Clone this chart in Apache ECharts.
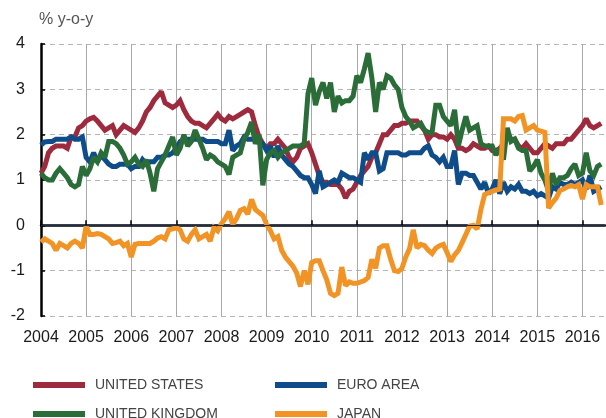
<!DOCTYPE html>
<html>
<head>
<meta charset="utf-8">
<script src="https://cdn.jsdelivr.net/npm/echarts@6/dist/echarts.min.js"></script>
<style>
  html, body { margin: 0; padding: 0; background: #fff; }
  #chart { width: 606px; height: 418px; }
</style>
</head>
<body>
<div id="chart"></div>
<script>
// tick labels: one per year, data is monthly from Jan 2004
var years = ['2004', '2005', '2006', '2007', '2008', '2009', '2010', '2011', '2012', '2013', '2014', '2015', '2016'];
var yTicks = [-2, -1, 0, 1, 2, 3, 4];

// % y-o-y, monthly Jan 2004 .. Jun 2016
var unitedStates = [
  1.15, 1.3, 1.6, 1.7, 1.75, 1.75, 1.75, 1.7, 1.95, 1.95, 2.15, 2.2,
  2.3, 2.35, 2.38, 2.3, 2.2, 2.1, 2.15, 2.2, 2.0, 2.1, 2.2, 2.15,
  2.1, 2.05, 2.15, 2.3, 2.5, 2.6, 2.75, 2.85, 2.95, 2.7, 2.65, 2.6,
  2.65, 2.75, 2.55, 2.4, 2.3, 2.25, 2.25, 2.2, 2.15, 2.25, 2.35, 2.45,
  2.35, 2.3, 2.4, 2.35, 2.4, 2.45, 2.5, 2.55, 2.5, 2.2, 1.95, 1.8,
  1.7, 1.8, 1.8, 1.9, 1.8, 1.7, 1.5, 1.4, 1.5, 1.7, 1.75, 1.8,
  1.6, 1.35, 1.1, 0.95, 0.95, 0.9, 0.9, 0.9, 0.8, 0.6, 0.75, 0.8,
  0.95, 1.1, 1.2, 1.3, 1.5, 1.6, 1.8, 2.0, 2.0, 2.1, 2.2, 2.2,
  2.25, 2.25, 2.3, 2.3, 2.3, 2.2, 2.1, 1.9, 2.0, 2.0, 1.95, 1.95,
  1.9, 2.0, 1.9, 1.7, 1.7, 1.65, 1.7, 1.8, 1.75, 1.7, 1.7, 1.75,
  1.65, 1.65, 1.7, 1.8, 2.0, 1.9, 1.9, 1.75, 1.7, 1.8, 1.7, 1.6,
  1.6, 1.7, 1.8, 1.75, 1.7, 1.8, 1.8, 1.8, 1.9, 1.9, 2.0, 2.1,
  2.2, 2.35, 2.2, 2.15, 2.2, 2.25
];
var euroArea = [
  1.77, 1.84, 1.85, 1.85, 1.9, 1.9, 1.9, 1.9, 1.95, 1.9, 1.9, 1.95,
  1.5, 1.4, 1.6, 1.4, 1.55, 1.45, 1.35, 1.3, 1.3, 1.35, 1.35, 1.35,
  1.25, 1.3, 1.3, 1.45, 1.35, 1.4, 1.4, 1.5, 1.5, 1.55, 1.55, 1.6,
  1.7, 1.85, 1.9, 1.9, 1.9, 1.9, 1.9, 1.9, 1.85, 1.85, 1.85, 1.85,
  1.8, 1.8, 2.1, 1.65, 1.75, 1.8, 1.95, 1.9, 1.9, 1.9, 1.85, 1.8,
  1.65, 1.75, 1.5, 1.75, 1.55, 1.45, 1.35, 1.3, 1.2, 1.1, 1.05, 1.05,
  0.9, 0.7, 1.2, 0.85, 0.9, 0.95, 1.0, 0.95, 1.15, 1.1, 1.05, 1.05,
  1.0, 0.95, 1.6, 1.45, 1.6, 1.6, 1.2, 1.25, 1.6, 1.6, 1.6, 1.6,
  1.55, 1.55, 1.6, 1.6, 1.6, 1.6, 1.7, 1.75, 1.55, 1.5, 1.4, 1.5,
  1.3, 1.3, 1.65, 0.9, 1.15, 1.15, 1.1, 1.1, 0.95, 0.8, 0.95, 0.7,
  0.8, 1.0, 0.7, 0.95, 0.75, 0.85, 0.8, 0.9, 0.75, 0.75, 0.7, 0.75,
  0.65, 0.7, 0.65, 0.6, 0.85, 0.8, 0.95, 0.9, 0.9, 0.95, 0.9, 0.95,
  1.0, 0.8, 1.1, 0.75, 0.8, 0.85
];
var unitedKingdom = [
  1.15, 1.05, 1.0, 1.0, 1.15, 1.25, 1.15, 1.05, 0.9, 0.85, 0.9, 1.3,
  1.1, 1.25, 1.5, 1.4, 1.6, 1.5, 1.85, 1.85, 1.8, 1.7, 1.55, 1.35,
  1.4, 1.5, 1.35, 1.3, 1.45, 1.15, 0.75, 1.25, 1.4, 1.55, 1.75, 1.95,
  1.55, 1.7, 2.0, 1.75, 1.85, 2.1, 1.9, 1.7, 1.45, 1.55, 1.5, 1.4,
  1.35, 1.3, 1.12, 1.5, 1.55, 1.6, 1.9, 2.05, 2.28, 1.8, 2.0, 0.88,
  1.45, 1.6, 1.65, 1.5, 1.6, 1.65, 1.7, 1.75, 1.75, 1.75, 1.8, 2.9,
  3.25, 2.65, 2.95, 3.15, 2.8, 3.15, 2.5, 2.85, 2.7, 2.75, 2.75, 2.85,
  3.3, 3.15, 3.45, 3.8, 3.25, 2.5, 3.15, 3.0, 3.3, 3.25, 3.1, 3.0,
  2.6, 2.4, 2.3, 2.15, 2.2, 2.25, 2.1, 2.05, 2.05, 2.65, 2.65, 2.4,
  2.3, 2.2, 2.55, 1.75, 2.1, 2.4, 2.1, 2.15, 2.2, 1.8, 1.75, 1.75,
  1.75, 1.55, 1.7, 1.45, 2.15, 1.85, 1.9, 1.7, 1.65, 1.65, 1.2, 1.3,
  1.45, 1.15, 1.0, 0.75, 1.15, 0.9, 1.05, 1.05, 1.1, 1.25, 1.35, 1.1,
  1.15, 1.6, 1.2, 1.1, 1.3, 1.35
];
var japan = [
  -0.37, -0.3, -0.35, -0.4, -0.55, -0.4, -0.45, -0.5, -0.4, -0.35, -0.4, -0.5,
  -0.02, -0.2, -0.2, -0.18, -0.2, -0.25, -0.3, -0.4, -0.38, -0.35, -0.45, -0.4,
  -0.7, -0.42, -0.4, -0.4, -0.4, -0.4, -0.35, -0.28, -0.25, -0.3, -0.1, -0.08,
  -0.05, -0.1, -0.3, -0.35, -0.2, -0.1, -0.3, -0.25, -0.2, -0.35, -0.05, -0.12,
  0.04, 0.15, 0.3, 0.02, 0.15, 0.33, 0.37, 0.25, 0.57, 0.35, 0.28, 0.22,
  0.02, -0.12, -0.3, -0.25, -0.55, -0.7, -0.8, -0.9, -1.05, -1.35, -1.0, -1.3,
  -0.82, -0.78, -0.78, -1.0, -1.2, -1.5, -1.55, -1.5, -0.92, -1.33, -1.25, -1.28,
  -1.28, -1.25, -1.22, -1.15, -0.75, -0.95, -0.5, -0.45, -0.45, -0.75, -1.0, -1.02,
  -0.95, -0.7, -0.52, -0.1, -0.5, -0.42, -0.45, -0.55, -0.62, -0.5, -0.45, -0.42,
  -0.6, -0.8, -0.65, -0.55, -0.38, -0.2, -0.02, 0.0, -0.08, 0.35, 0.68, 0.72,
  0.75, 0.78, 0.8, 2.35, 2.35, 2.35, 2.3, 2.4, 2.42, 2.1, 2.15, 2.2,
  2.1, 2.08, 2.05, 0.38, 0.5, 0.6, 0.77, 0.8, 0.85, 0.88, 0.85, 0.9,
  0.58, 0.9, 0.85, 0.85, 0.85, 0.45
];

var names = ['UNITED STATES', 'EURO AREA', 'UNITED KINGDOM', 'JAPAN'];
var colors = ['#9e2b3d', '#0f4c8a', '#2a6d38', '#f29425'];

var months = [];
years.forEach(function (y) {
  for (var m = 1; m <= 12; m++) months.push(y + '-' + (m < 10 ? '0' : '') + m);
});
months = months.slice(0, 151); // through Jul 2016

function isYearStart(i) { return i % 12 === 0; }

var chart = echarts.init(document.getElementById('chart'), null, { renderer: 'canvas' });

function line(name, data, color, extra) {
  var s = {
    name: name,
    type: 'line',
    data: data,
    showSymbol: false,
    symbol: 'none',
    lineStyle: { color: color, width: 5, join: 'miter', miterLimit: 2 },
    itemStyle: { color: color }
  };
  for (var k in extra) s[k] = extra[k];
  return s;
}

var legendText = {
  fontFamily: '"Liberation Sans Narrow", "Liberation Sans", sans-serif',
  fontSize: 14,
  color: '#444',
  lineHeight: 16,
  padding: [0, 0, 0, 5]
};

chart.setOption({
  animation: false,
  title: {
    text: '% y-o-y',
    left: 39,
    top: 12,
    padding: 0,
    textStyle: { fontFamily: 'Liberation Sans', fontSize: 16, fontWeight: 'normal', color: '#555' }
  },
  legend: [{
    data: [names[0], names[2]],
    orient: 'vertical',
    left: 33,
    top: 377,
    height: 80,
    padding: 0,
    icon: 'rect',
    itemWidth: 52,
    itemHeight: 6,
    itemGap: 13,
    textStyle: legendText
  }, {
    data: [names[1], names[3]],
    orient: 'vertical',
    left: 275,
    top: 377,
    height: 80,
    padding: 0,
    icon: 'rect',
    itemWidth: 52,
    itemHeight: 6,
    itemGap: 13,
    textStyle: legendText
  }],
  grid: { left: 41, right: 1, top: 44, bottom: 102, containLabel: false },
  xAxis: {
    type: 'category',
    data: months,
    boundaryGap: false,
    axisLine: { lineStyle: { color: '#000', width: 2.5 } },
    axisTick: { show: true, inside: true, length: 5, interval: isYearStart, lineStyle: { color: '#000', width: 1.5 } },
    axisLabel: {
      interval: isYearStart,
      formatter: function (v) { return v.slice(0, 4); },
      fontFamily: 'Liberation Sans',
      fontSize: 16,
      color: '#1a1a1a',
      margin: 14
    },
    splitLine: { show: true, interval: isYearStart, lineStyle: { color: '#a8a8a8', width: 1 } }
  },
  yAxis: {
    type: 'value',
    min: yTicks[0],
    max: yTicks[yTicks.length - 1],
    interval: 1,
    axisLine: { show: true, lineStyle: { color: '#000', width: 2.5 } },
    axisTick: { show: true, inside: true, length: 4, lineStyle: { color: '#000', width: 1.5 } },
    axisLabel: {
      fontFamily: 'Liberation Sans',
      fontSize: 16,
      color: '#1a1a1a',
      margin: 16
    },
    splitLine: { show: true, lineStyle: { color: '#b5b5b5', width: 1, type: [5, 4] } }
  },
  series: [
    line(names[0], unitedStates, colors[0], {
      markLine: {
        silent: true,
        symbol: ['none', 'none'],
        label: { show: false },
        lineStyle: { color: '#1d2c4c', width: 1, type: 'solid' },
        data: [{ yAxis: 0 }]
      }
    }),
    line(names[1], euroArea, colors[1]),
    line(names[2], unitedKingdom, colors[2]),
    line(names[3], japan, colors[3])
  ]
});
</script>
</body>
</html>
